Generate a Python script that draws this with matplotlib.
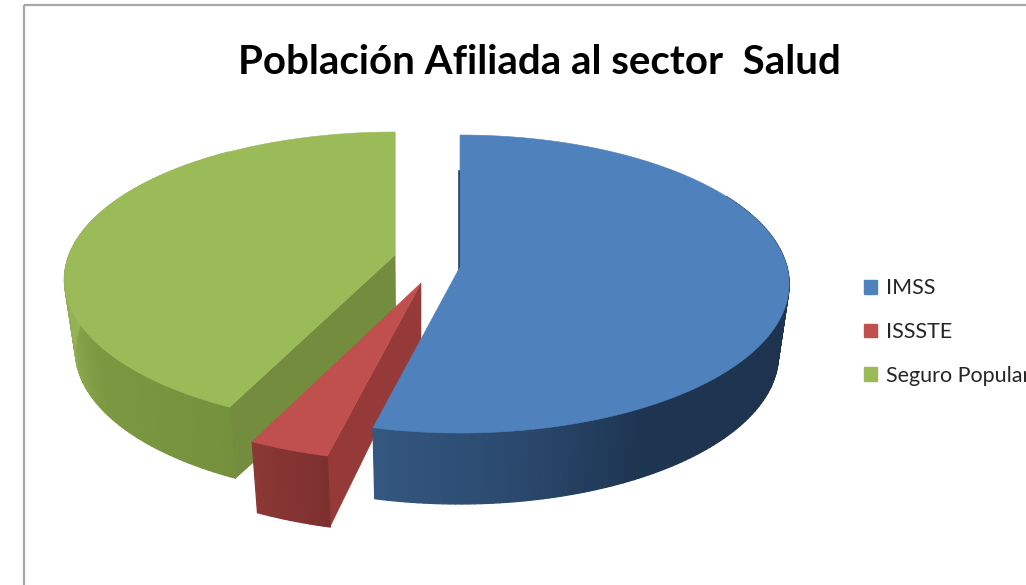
import numpy as np
import matplotlib
matplotlib.use("Agg")
import matplotlib.pyplot as plt
from matplotlib.patches import Rectangle, Patch
from matplotlib.collections import PolyCollection
from matplotlib.colors import to_rgb

title = "Población Afiliada al sector  Salud"
categories = ["IMSS", "ISSSTE", "Seguro Popular"]
values = [53.8, 3.3, 42.9]

top_colors = ["#4F81BD", "#C0504D", "#9BBB59"]
cut_colors = ["#1F3552", "#953A38", "#738C3E"]

# rim shading keyed on angle (deg clockwise from 12 o'clock)
rim_stops = [
    ([60, 150, 170, 194], ["#1C314D", "#1E3552", "#2A486C", "#345880"]),
    ([193, 206], ["#7C2F2E", "#8C3836"]),
    ([206, 235, 262, 290], ["#75913D", "#7B9841", "#94B255", "#9BBB59"]),
]
# layout: exploded apex in pixels, depth at apex
apex = [(460, 267), (421, 283), (395, 255)]
apex_depth = [60, 58, 80]
radius_x = [327, 338, 326]
radius_up = [132, 132, 123]
radius_dn = [166, 179, 172]
RIM = 71
X0 = 430

W, H = 1026, 585
fig = plt.figure(figsize=(W / 100, H / 100), dpi=100, facecolor="white")
ax = fig.add_axes([0, 0, 1, 1])
ax.set_xlim(0, W)
ax.set_ylim(H, 0)
ax.axis("off")


def rim_point(i, th):
    """Top-face point for angle th (radians clockwise from up)."""
    ax0, ay0 = apex[i]
    u, v = np.cos(th), np.sin(th)
    p = (radius_dn[i] - radius_up[i]) / (radius_dn[i] + radius_up[i])
    B = 2 * radius_up[i] * radius_dn[i] / (radius_up[i] + radius_dn[i])
    return ax0 + radius_x[i] * v / (1 + p * u), ay0 - B * u / (1 + p * u)


def drop(x, y, d):
    return x + (X0 - x) * 0.03, y + d


def blend(stops, a):
    xs, cs = stops
    rgb = np.array([to_rgb(c) for c in cs])
    return [np.interp(a, xs, rgb[:, k]) for k in range(3)]


ax.add_patch(Rectangle((23.5, 4.5), 1100, 700, fill=False, ec="#A6A6A6", lw=1.6, zorder=1))

ends = np.cumsum(values) * 360 / sum(values)
starts = np.concatenate([[0], ends[:-1]])

for i in [2, 1, 0]:
    a0, a1 = starts[i], ends[i]
    ang = np.linspace(a0, a1, max(int(a1 - a0), 12))
    xs, ys = rim_point(i, np.radians(ang))
    z = 2 + {2: 0, 1: 1, 0: 2}[i] * 2

    # cut faces
    ax0, ay0 = apex[i]
    bx, by = drop(ax0, ay0, apex_depth[i])
    if i == 2:
        ex, ey = drop(xs[0], ys[0], RIM)
        ax.fill([ax0, xs[0], ex, bx], [ay0, ys[0], ey, by], fc=cut_colors[i], ec=cut_colors[i], lw=0.4, zorder=z)
        ex, ey = xs[-1] - 3, ys[-1] + 40
        ax.fill([ax0, xs[-1], ex, ax0 - 2], [ay0, ys[-1], ey, by], fc=cut_colors[i], ec=cut_colors[i], lw=0.4, zorder=z)
    elif i == 1:
        ex, ey = drop(xs[0], ys[0], RIM - 1)
        ax.fill([ax0, xs[0], ex, ax0], [ay0, ys[0], ey, by], fc=cut_colors[i], ec=cut_colors[i], lw=0.4, zorder=z)
    else:
        ax.fill([ax0, xs[0], xs[0] - 2, ax0 - 2], [ay0, ys[0] + 35, ys[0] + 35, by], fc=cut_colors[i], ec=cut_colors[i], lw=0.4, zorder=z)

    # outer rim, front half and the part that tapers behind the top face
    polys, cols = [], []
    for k in range(len(ang) - 1):
        mid = 0.5 * (ang[k] + ang[k + 1])
        if not (60 <= mid <= 325):
            continue
        x1, y1 = drop(xs[k], ys[k], RIM)
        x2, y2 = drop(xs[k + 1], ys[k + 1], RIM)
        polys.append([(xs[k], ys[k]), (xs[k + 1], ys[k + 1]), (x2, y2), (x1, y1)])
        cols.append(blend(rim_stops[i], mid))
    ax.add_collection(PolyCollection(polys, facecolors=cols, edgecolors=cols, linewidths=0.9, zorder=z))

    # top face
    ax.fill(np.r_[ax0, xs], np.r_[ay0, ys], fc=top_colors[i], ec=top_colors[i], lw=0.4, zorder=z + 0.5)

ax.text(539, 62, title, ha="center", va="center", fontsize=29, fontweight="bold", color="#000000", family="Lato", zorder=10)

handles = [Patch(fc=c, ec=c) for c in top_colors]
leg = ax.legend(handles, categories, loc="upper left", bbox_to_anchor=(860 / W, 1 - 274 / H),
                bbox_transform=fig.transFigure, frameon=False, prop={"family": "Lato", "size": 15.5},
                handlelength=0.6, handleheight=0.6, handletextpad=0.42, labelspacing=1.1,
                borderpad=0.2, borderaxespad=0)
for t in leg.get_texts():
    t.set_color("#262626")

fig.savefig("out.png", dpi=100, facecolor="white")
